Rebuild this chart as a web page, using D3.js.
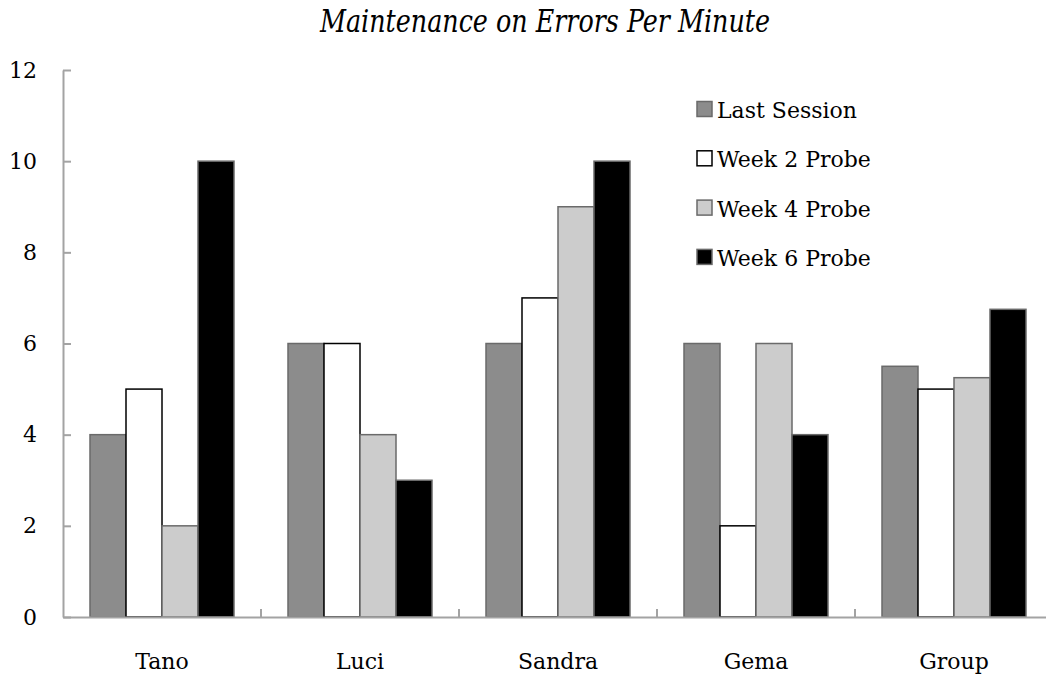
<!DOCTYPE html>
<html>
<head>
<meta charset="utf-8">
<script src="https://cdn.jsdelivr.net/npm/d3@7"></script>
<style>
  html, body { margin: 0; padding: 0; background: #fff; }
  svg { display: block; }
</style>
</head>
<body>
<svg id="chart" width="1046" height="675"></svg>
<script>
const title = "Maintenance on Errors Per Minute";
const categories = ["Tano", "Luci", "Sandra", "Gema", "Group"];
const seriesNames = ["Last Session", "Week 2 Probe", "Week 4 Probe", "Week 6 Probe"];
const lastSession = [4, 6, 6, 6, 5.5];
const week2Probe = [5, 6, 7, 2, 5];
const week4Probe = [2, 4, 9, 6, 5.25];
const week6Probe = [10, 3, 10, 4, 6.75];
const yTicks = [0, 2, 4, 6, 8, 10, 12];

(function () {
const seriesValues = [lastSession, week2Probe, week4Probe, week6Probe];
const fills = ["#8c8c8c", "#ffffff", "#cccccc", "#000000"];
const strokes = ["#6a6a6a", "#000000", "#6a6a6a", "#6a6a6a"];

const svg = d3.select("#chart");
const mLeft = 63, mRight = 1053, mTop = 70, mBottom = 617;
const labelFont = "DejaVu Serif";
const titleFont = "'DejaVu Serif Condensed', 'DejaVu Serif', serif";

const x0 = d3.scaleBand().domain(categories).range([mLeft, mRight])
  .paddingInner(54 / 198).paddingOuter(27 / 198);
const x1 = d3.scaleBand().domain(seriesNames).range([0, x0.bandwidth()]).padding(0);
const y = d3.scaleLinear().domain([0, 12]).range([mBottom, mTop]);

// title
svg.append("text")
  .attr("x", 545).attr("y", 32)
  .attr("text-anchor", "middle")
  .style("font-family", titleFont)
  .style("font-style", "italic")
  .style("font-stretch", "condensed")
  .style("font-size", "31px")
  .attr("textLength", 450)
  .attr("lengthAdjust", "spacingAndGlyphs")
  .attr("fill", "#000")
  .text(title);

// bars
const groups = svg.append("g").selectAll("g")
  .data(categories)
  .join("g")
  .attr("transform", d => `translate(${x0(d)},0)`);

groups.selectAll("rect")
  .data((d, i) => seriesNames.map((s, j) => ({ s, j, v: seriesValues[j][i] })))
  .join("rect")
  .attr("x", d => x1(d.s))
  .attr("y", d => y(d.v))
  .attr("width", x1.bandwidth())
  .attr("height", d => y(0) - y(d.v))
  .attr("fill", d => fills[d.j])
  .attr("stroke", d => strokes[d.j])
  .attr("stroke-width", 1.5);

// y axis
const yAxis = svg.append("g")
  .attr("transform", `translate(${mLeft},0)`)
  .call(d3.axisLeft(y).tickValues(yTicks).tickSize(-8).tickSizeOuter(0).tickPadding(26)
    .tickFormat(d3.format("d")));
yAxis.selectAll("path, line").attr("stroke", "#a3a3a3").attr("stroke-width", 2);
yAxis.selectAll("text")
  .style("font-family", labelFont).style("font-size", "22px").attr("fill", "#000");

// x axis
const xAxis = svg.append("g")
  .attr("transform", `translate(0,${mBottom})`)
  .call(d3.axisBottom(x0).tickSize(0).tickSizeOuter(0).tickPadding(36));
xAxis.selectAll("path").attr("stroke", "#a3a3a3").attr("stroke-width", 2);
xAxis.selectAll("text")
  .style("font-family", labelFont).style("font-size", "22px").attr("fill", "#000");
// boundary ticks between groups
const halfGap = x0.step() * x0.paddingInner() / 2;
xAxis.selectAll("line.bnd")
  .data(categories.slice(1))
  .join("line")
  .attr("class", "bnd")
  .attr("x1", d => x0(d) - halfGap).attr("x2", d => x0(d) - halfGap)
  .attr("y1", 0).attr("y2", -8)
  .attr("stroke", "#a3a3a3").attr("stroke-width", 2);

// legend
const legend = svg.append("g").selectAll("g")
  .data(seriesNames)
  .join("g")
  .attr("transform", (d, i) => `translate(697,${109 + i * 49.3})`);
legend.append("rect")
  .attr("x", 0).attr("y", -7.5)
  .attr("width", 15).attr("height", 15)
  .attr("fill", (d, i) => fills[i])
  .attr("stroke", (d, i) => strokes[i])
  .attr("stroke-width", 1.5);
legend.append("text")
  .attr("x", 20).attr("y", 9)
  .style("font-family", labelFont).style("font-size", "22px").attr("fill", "#000")
  .text(d => d);
})();
</script>
</body>
</html>
